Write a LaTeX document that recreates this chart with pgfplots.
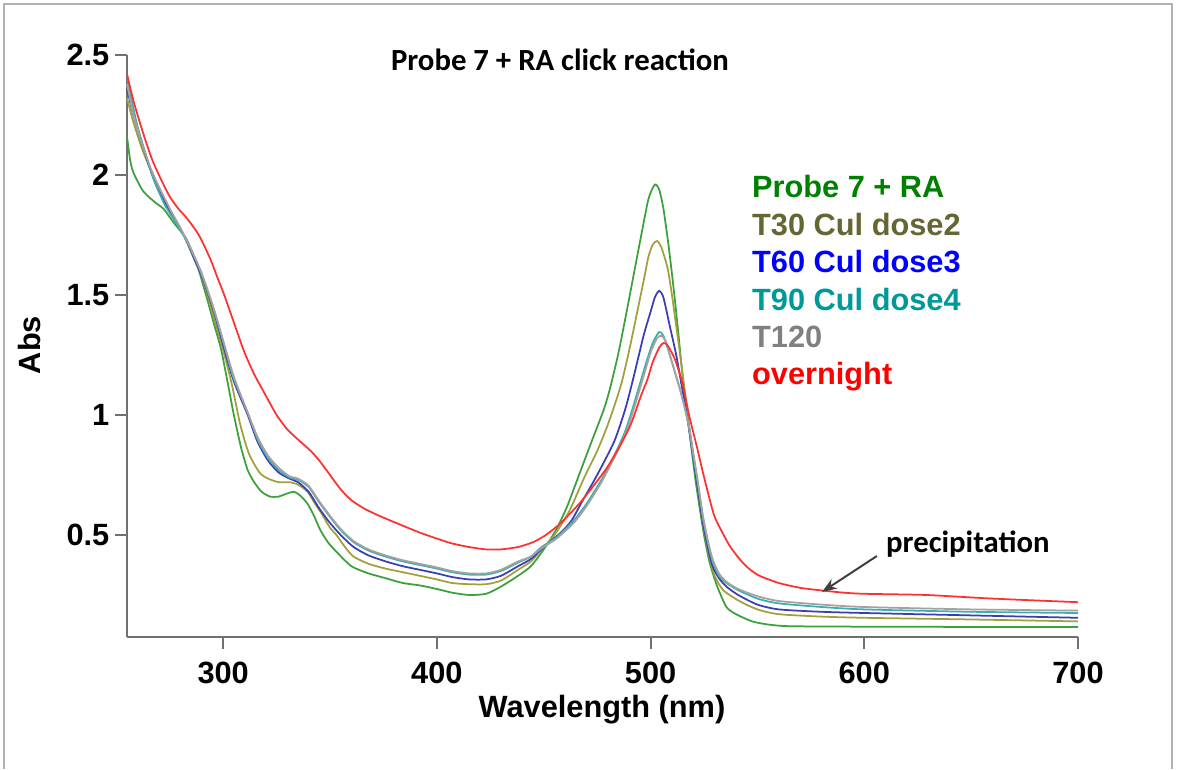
\documentclass[border=0pt]{standalone}
\usepackage{fontspec}
\setmainfont{Liberation Sans}
\newfontfamily\carlito{Carlito}
\usepackage{pgfplots}
\pgfplotsset{compat=1.18}
\usetikzlibrary{arrows.meta}

\definecolor{cgreen}{HTML}{3CA03C}
\definecolor{colive}{HTML}{A0A03C}
\definecolor{cblue}{HTML}{3C3CB4}
\definecolor{cteal}{HTML}{3CB0B0}
\definecolor{cgray}{HTML}{A8A0A0}
\definecolor{cred}{HTML}{FF3030}
\definecolor{lgreen}{HTML}{008000}
\definecolor{lolive}{HTML}{666633}
\definecolor{lblue}{HTML}{0000FF}
\definecolor{lteal}{HTML}{009999}
\definecolor{lgray}{HTML}{808080}
\definecolor{lred}{HTML}{FF0000}
\definecolor{axgray}{HTML}{707070}

\newcommand{\lbl}{\fontsize{17.5}{20}\selectfont\bfseries}

\begin{document}
\begin{tikzpicture}
\useasboundingbox (0,0) rectangle (235.8mm,153.8mm);
\draw[gray!60, line width=0.4mm] (0.8mm,0) -- (0.8mm,153.0mm) -- (234.4mm,153.0mm) -- (234.4mm,0);
\begin{axis}[
  at={(25.4mm,26.4mm)}, anchor=south west,
  scale only axis, width=190.2mm, height=116.4mm,
  xmin=255, xmax=700, ymin=0.075, ymax=2.5,
  axis x line*=bottom, axis y line*=left,
  axis line style={axgray, line width=0.4mm, -},
  xtick={300,400,500,600,700},
  ytick={0.5,1,1.5,2,2.5},
  tick align=outside, major tick length=2.3mm,
  tick style={axgray, line width=0.4mm},
  ticklabel style={font=\lbl},
  /pgf/number format/assume math mode=true,
  xticklabel shift=1.4mm,
  clip=false,
  every axis plot/.append style={line width=0.35mm, smooth, tension=0.4},
]
% Probe 7 + RA
\addplot[cgreen] coordinates {
(255,2.16) (256.5,2.06) (258,2.01) (262,1.94) (265,1.91) (269,1.88) (272,1.86)
(277,1.80) (283,1.73) (288,1.62) (292.6,1.48) (296,1.37) (299,1.275) (302,1.14)
(305,1.00) (308.5,0.86) (311.5,0.77) (314.5,0.72) (318,0.68) (322,0.66) (326,0.66)
(329,0.67) (333,0.68) (336,0.665) (339.5,0.63) (342.5,0.58) (345.5,0.52) (349,0.47)
(353,0.43) (360,0.37) (368,0.34) (376,0.32) (384,0.30) (392,0.29) (400,0.275)
(407,0.26) (415,0.25) (423,0.255) (430,0.285) (438,0.33) (444,0.37) (450,0.44)
(456,0.525) (461,0.62) (466.5,0.75) (472,0.88) (478,1.02) (481,1.11) (485,1.26)
(489,1.44) (492,1.58) (495,1.72) (499,1.90) (502,1.96) (504,1.94) (506,1.86)
(508.5,1.70) (511,1.51) (513,1.34) (515,1.16) (517,1.02) (519,0.87) (521,0.73)
(523,0.61) (525,0.50) (527.5,0.39) (531,0.29) (535.5,0.20) (540,0.17) (547.5,0.14)
(555,0.127) (565,0.12) (600,0.118) (650,0.117) (700,0.117)
};
% T30 CuI dose2
\addplot[colive] coordinates {
(255,2.32) (258,2.22) (262,2.11) (267,2.00) (272,1.90) (277,1.82) (281.5,1.75)
(286,1.66) (291,1.55) (295.5,1.41) (300,1.27) (304,1.13) (308,0.96) (312,0.84)
(317,0.76) (321,0.735) (326,0.72) (331,0.72) (335,0.71) (339.5,0.68) (343,0.63)
(346,0.59) (350,0.53) (353,0.50) (357,0.45) (361,0.41) (368,0.38) (376,0.36)
(384,0.345) (392,0.33) (400,0.315) (407,0.30) (415,0.295) (423,0.295) (430,0.31)
(438,0.355) (444,0.39) (449,0.44) (455,0.50) (462,0.60) (469,0.74) (475,0.85)
(480,0.96) (486,1.12) (490,1.27) (494,1.44) (497,1.57) (499,1.66) (501,1.71)
(503,1.725) (505,1.70) (508,1.61) (510,1.50) (512,1.37) (514,1.24) (516,1.10)
(518,0.96) (520.5,0.80) (522.5,0.67) (525,0.52) (527.5,0.41) (530,0.33) (534,0.27)
(541.5,0.225) (550,0.19) (560,0.17) (580,0.16) (600,0.155) (650,0.148) (700,0.14)
};
% T60 CuI dose3
\addplot[cblue] coordinates {
(255,2.36) (258,2.25) (262,2.13) (266,2.02) (269,1.95) (275,1.85) (281.5,1.75)
(286,1.66) (291,1.555) (296,1.42) (300.5,1.275) (305,1.14) (311.5,1.00) (316,0.89)
(321,0.81) (326,0.76) (331,0.735) (335,0.72) (340,0.68) (345,0.61) (350,0.55)
(355,0.50) (361,0.45) (368,0.415) (376,0.39) (384,0.37) (392,0.355) (400,0.34)
(407,0.325) (415,0.315) (423,0.315) (430,0.33) (438,0.37) (444,0.40) (450,0.45)
(458,0.51) (463,0.56) (468,0.64) (475,0.75) (483,0.89) (488,1.02) (491,1.12)
(494,1.23) (497,1.34) (500,1.43) (502,1.49) (504,1.517) (506,1.49) (509,1.37)
(512,1.25) (514,1.15) (516,1.05) (518,0.94) (520,0.82) (522,0.70) (524.5,0.55)
(527,0.44) (529,0.37) (532,0.32) (535.5,0.285) (541,0.25) (550,0.21) (560,0.19)
(580,0.18) (600,0.175) (650,0.165) (700,0.155)
};
% T90 CuI dose4
\addplot[cteal] coordinates {
(255,2.42) (257,2.32) (260,2.20) (264,2.08) (268,1.97) (273,1.87) (278,1.80)
(282,1.74) (287,1.65) (291,1.56) (296,1.43) (300.5,1.29) (305,1.15) (311.5,1.01)
(316,0.90) (321,0.82) (326,0.77) (331,0.74) (335,0.73) (340,0.70) (345,0.635)
(350,0.575) (355,0.52) (361,0.47) (368,0.435) (376,0.41) (384,0.39) (392,0.375)
(400,0.36) (407,0.345) (415,0.335) (423,0.335) (430,0.35) (438,0.385) (444,0.41)
(449,0.45) (456,0.49) (464,0.56) (470,0.63) (477,0.73) (484,0.85) (488,0.93)
(491,1.01) (495,1.13) (498,1.22) (501,1.30) (504,1.346) (506,1.33) (509,1.25)
(512,1.16) (514,1.10) (516,1.03) (518,0.95) (520,0.83) (522,0.72) (524.5,0.57)
(527,0.46) (529,0.39) (532,0.33) (535.5,0.30) (541,0.27) (550,0.235) (560,0.215)
(580,0.20) (600,0.19) (650,0.18) (700,0.175)
};
% T120
\addplot[cgray] coordinates {
(255,2.38) (258,2.25) (262,2.13) (266,2.03) (270,1.95) (275,1.86) (280,1.78)
(285,1.69) (290,1.59) (295,1.46) (300,1.31) (305,1.16) (311,1.02) (316,0.91)
(321,0.83) (326,0.78) (331,0.745) (335,0.735) (340,0.705) (345,0.64) (350,0.58)
(355,0.525) (361,0.475) (368,0.44) (376,0.415) (384,0.395) (392,0.38) (400,0.365)
(407,0.35) (415,0.34) (423,0.34) (430,0.355) (438,0.39) (444,0.41) (449,0.445)
(456,0.485) (464,0.55) (470,0.62) (477,0.72) (484,0.84) (489,0.94) (493,1.05)
(497,1.17) (500,1.26) (503,1.32) (505,1.33) (507,1.31) (509,1.25) (512,1.16)
(514,1.10) (516,1.03) (518,0.95) (520,0.84) (522,0.73) (524.5,0.58) (527,0.47)
(529,0.40) (532,0.34) (535.5,0.305) (541,0.275) (550,0.245) (560,0.225) (580,0.21)
(600,0.20) (650,0.19) (700,0.185)
};
% overnight
\addplot[cred] coordinates {
(255,2.42) (258,2.31) (262,2.19) (266.5,2.07) (271,1.98) (275,1.91) (279,1.86)
(283,1.82) (288.6,1.75) (294,1.65) (297,1.58) (300.5,1.50) (306.6,1.345) (310,1.26)
(314.5,1.17) (320,1.08) (325,1.00) (330,0.94) (336,0.89) (341,0.85) (345,0.81)
(350,0.75) (355,0.69) (360,0.645) (366,0.61) (373,0.58) (381,0.55) (392,0.51)
(400,0.485) (407,0.465) (415,0.45) (423,0.44) (430,0.44) (438,0.45) (445,0.47)
(451,0.50) (458,0.55) (466.6,0.63) (472,0.69) (478,0.76) (481,0.80) (485,0.86)
(490.7,0.96) (495.5,1.08) (498.6,1.15) (501,1.22) (504,1.28) (506,1.30) (508,1.29)
(511,1.24) (513,1.19) (515,1.13) (518,1.00) (521.6,0.87) (524.5,0.76) (527.6,0.65)
(530,0.575) (533.6,0.51) (537,0.455) (541.6,0.40) (546,0.36) (551,0.33) (560,0.30)
(570,0.28) (579,0.27) (590,0.26) (600,0.255) (629,0.25) (660,0.235) (700,0.22)
};
% annotations
\node[font=\carlito\lbl, anchor=base] at (axis description cs:0.4553,0.9725) {Probe 7 + RA click reaction};
\node[font=\lbl, rotate=90, anchor=center] at (axis description cs:-0.102,0.5017) {Abs};
\node[font=\lbl, anchor=base] at (axis description cs:0.4995,-0.139) {Wavelength (nm)};
\node[font=\carlito\lbl, anchor=base west] at (axis description cs:0.7918,0.146) {precipitation};
\draw[-{Stealth[length=3mm,width=2.2mm]}, line width=0.4mm, black!75] (axis cs:605.9,0.4125) -- (axis cs:580.2,0.2625);
\node[font=\lbl, text=lgreen, anchor=base west, inner sep=0pt] at (axis description cs:0.657,0.7543) {Probe 7 + RA};
\node[font=\lbl, text=lolive, anchor=base west, inner sep=0pt] at (axis description cs:0.657,0.6900) {T30 Cul dose2};
\node[font=\lbl, text=lblue, anchor=base west, inner sep=0pt] at (axis description cs:0.657,0.6258) {T60 Cul dose3};
\node[font=\lbl, text=lteal, anchor=base west, inner sep=0pt] at (axis description cs:0.657,0.5615) {T90 Cul dose4};
\node[font=\lbl, text=lgray, anchor=base west, inner sep=0pt] at (axis description cs:0.657,0.4973) {T120};
\node[font=\lbl, text=lred, anchor=base west, inner sep=0pt] at (axis description cs:0.657,0.4330) {overnight};
\end{axis}
\end{tikzpicture}
\end{document}
